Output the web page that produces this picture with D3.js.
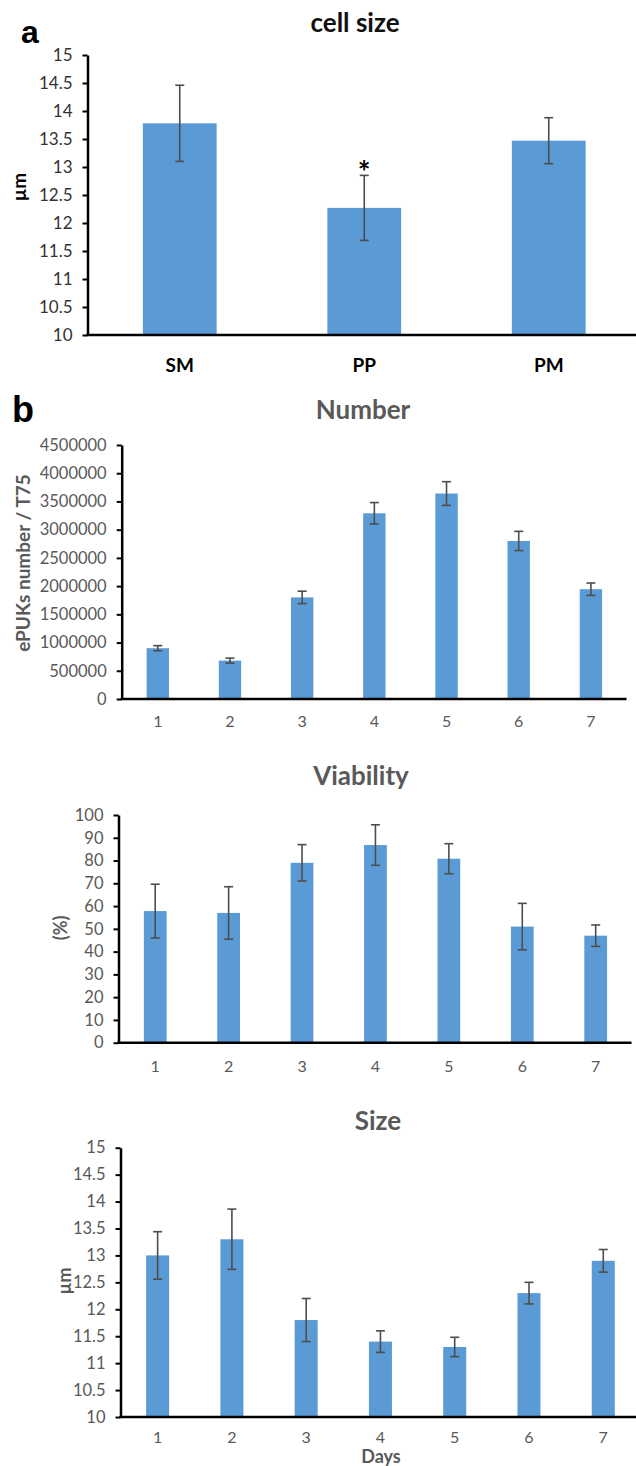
<!DOCTYPE html>
<html lang="en">
	<head>
		<meta charset="UTF-8" />
		<title>cell size / Number / Viability / Size</title>
		<style>
			body { margin: 0; background: #fff; }
			text { font-family: Lato, 'Open Sans', sans-serif; }
		</style>
	</head>
	<body>
		<div id="chart"></div>
		<script src="https://cdnjs.cloudflare.com/ajax/libs/d3/7.8.5/d3.min.js"></script>
		<script>
			// panel a
			var cellGroups = ['SM', 'PP', 'PM'];
			var cellSize = [13.78, 12.27, 13.47];
			var cellSizeErr = [0.68, 0.58, 0.41];
			var cellTicks = [10, 10.5, 11, 11.5, 12, 12.5, 13, 13.5, 14, 14.5, 15];

			// panel b
			var days = ['1', '2', '3', '4', '5', '6', '7'];
			var numberVals = [900000, 680000, 1800000, 3290000, 3640000, 2800000, 1945000];
			var numberErr = [45000, 45000, 110000, 190000, 210000, 170000, 110000];
			var numberTicks = [0, 500000, 1000000, 1500000, 2000000, 2500000, 3000000, 3500000, 4000000, 4500000];
			var viabilityVals = [57.8, 57, 79, 86.8, 80.8, 51, 47];
			var viabilityErr = [11.8, 11.5, 8, 8.9, 6.6, 10.2, 4.7];
			var viabilityTicks = [0, 10, 20, 30, 40, 50, 60, 70, 80, 90, 100];
			var sizeVals = [13.0, 13.3, 11.8, 11.4, 11.3, 12.3, 12.9];
			var sizeErr = [0.44, 0.56, 0.4, 0.2, 0.18, 0.2, 0.21];
			var sizeTicks = [10, 10.5, 11, 11.5, 12, 12.5, 13, 13.5, 14, 14.5, 15];

			var barColor = '#5B9BD5';
			var errColor = '#4d4d4d';
			var gray = '#595959';

			var svg = d3
				.select('#chart')
				.append('svg')
				.attr('width', 636)
				.attr('height', 1466);

			function drawPanel(p) {
				var x = d3
					.scaleBand()
					.domain(p.cats)
					.range(p.xRange)
					.paddingInner(p.pad)
					.paddingOuter(p.pad / 2);
				var y = d3.scaleLinear().domain(p.yDomain).range(p.yRange);

				var g = svg.append('g');

				// bars
				g.selectAll('rect.bar')
					.data(p.vals)
					.enter()
					.append('rect')
					.attr('class', 'bar')
					.attr('x', function (d, i) { return x(p.cats[i]); })
					.attr('width', x.bandwidth())
					.attr('y', function (d) { return y(d); })
					.attr('height', function (d) { return y(p.yDomain[0]) - y(d); })
					.attr('fill', barColor);

				// error bars
				var eb = g.selectAll('g.err')
					.data(p.vals)
					.enter()
					.append('g')
					.attr('class', 'err')
					.attr('stroke', errColor)
					.attr('stroke-width', 1.6);
				eb.append('line')
					.attr('x1', function (d, i) { return x(p.cats[i]) + x.bandwidth() / 2; })
					.attr('x2', function (d, i) { return x(p.cats[i]) + x.bandwidth() / 2; })
					.attr('y1', function (d, i) { return y(d + p.errs[i]); })
					.attr('y2', function (d, i) { return y(d - p.errs[i]); });
				[1, -1].forEach(function (s) {
					eb.append('line')
						.attr('x1', function (d, i) { return x(p.cats[i]) + x.bandwidth() / 2 - 4.5; })
						.attr('x2', function (d, i) { return x(p.cats[i]) + x.bandwidth() / 2 + 4.5; })
						.attr('y1', function (d, i) { return y(d + s * p.errs[i]); })
						.attr('y2', function (d, i) { return y(d + s * p.errs[i]); });
				});

				// y axis
				var yAxis = g.append('g')
					.attr('transform', 'translate(' + p.xRange[0] + ',0)')
					.call(
						d3.axisLeft(y)
							.tickValues(p.ticks)
							.tickFormat(function (d) { return String(d); })
							.tickSize(5)
							.tickPadding(10)
							.tickSizeOuter(0)
					);
				yAxis.select('.domain').attr('stroke', '#000').attr('stroke-width', 2.5);
				yAxis.selectAll('.tick line').attr('stroke', '#000').attr('stroke-width', 2);
				yAxis.selectAll('.tick text')
					.attr('fill', p.tickColor)
					.style('font-family', 'Lato')
					.style('font-size', p.tickSize + 'px');

				// x axis line
				g.append('line')
					.attr('x1', p.xRange[0] - 1)
					.attr('x2', p.xEnd)
					.attr('y1', y(p.yDomain[0]))
					.attr('y2', y(p.yDomain[0]))
					.attr('stroke', '#000')
					.attr('stroke-width', 2.5);

				// x labels
				g.selectAll('text.xlab')
					.data(p.cats)
					.enter()
					.append('text')
					.attr('class', 'xlab')
					.attr('x', function (d) { return x(d) + x.bandwidth() / 2; })
					.attr('y', p.xLabY)
					.attr('text-anchor', 'middle')
					.attr('fill', p.xLabColor)
					.style('font-size', p.xLabSize + 'px')
					.style('font-weight', p.xLabWeight)
					.text(function (d) { return d; });

				// title
				g.append('text')
					.attr('x', p.titleX)
					.attr('y', p.titleY)
					.attr('text-anchor', 'middle')
					.attr('fill', p.titleColor)
					.style('font-size', '26px')
					.style('font-weight', 'bold')
					.text(p.title);

				// y label
				g.append('text')
					.attr('transform', 'translate(' + p.yLab[0] + ',' + p.yLab[1] + ') rotate(-90)')
					.attr('text-anchor', 'middle')
					.attr('dominant-baseline', 'central')
					.attr('fill', p.yLabColor)
					.style('font-size', p.yLabSize + 'px')
					.style('font-weight', 'bold')
					.text(p.yLabel);

				return { x: x, y: y };
			}

			var a = drawPanel({
				cats: cellGroups, vals: cellSize, errs: cellSizeErr, ticks: cellTicks,
				xRange: [87.5, 641], xEnd: 636, pad: 0.6,
				yDomain: [10, 15], yRange: [335, 55],
				tickColor: '#333', tickSize: 17,
				xLabY: 372, xLabColor: '#000', xLabSize: 19, xLabWeight: 'bold',
				title: 'cell size', titleX: 355, titleY: 32, titleColor: '#111',
				yLabel: 'µm', yLab: [18, 187], yLabColor: '#000', yLabSize: 19
			});

			// significance mark over PP
			svg.append('text')
				.attr('x', a.x('PP') + a.x.bandwidth() / 2)
				.attr('y', a.y(cellSize[1] + cellSizeErr[1]) + 8)
				.attr('text-anchor', 'middle')
				.attr('fill', '#000')
				.style('font-size', '30px')
				.style('font-weight', 'bold')
				.text('*');

			drawPanel({
				cats: days, vals: numberVals, errs: numberErr, ticks: numberTicks,
				xRange: [121.7, 627], xEnd: 626.5, pad: 0.69,
				yDomain: [0, 4500000], yRange: [699, 445],
				tickColor: gray, tickSize: 16.5,
				xLabY: 727, xLabColor: gray, xLabSize: 16, xLabWeight: 'normal',
				title: 'Number', titleX: 363, titleY: 419, titleColor: gray,
				yLabel: 'ePUKs number / T75', yLab: [22, 563], yLabColor: gray, yLabSize: 19
			});

			drawPanel({
				cats: days, vals: viabilityVals, errs: viabilityErr, ticks: viabilityTicks,
				xRange: [118.5, 632.4], xEnd: 631.5, pad: 0.69,
				yDomain: [0, 100], yRange: [1042.7, 815],
				tickColor: gray, tickSize: 16.5,
				xLabY: 1072, xLabColor: gray, xLabSize: 16, xLabWeight: 'normal',
				title: 'Viability', titleX: 361, titleY: 785, titleColor: gray,
				yLabel: '(%)', yLab: [60, 928], yLabColor: gray, yLabSize: 18
			});

			drawPanel({
				cats: days, vals: sizeVals, errs: sizeErr, ticks: sizeTicks,
				xRange: [120.5, 640.4], xEnd: 636, pad: 0.69,
				yDomain: [10, 15], yRange: [1417, 1147.7],
				tickColor: gray, tickSize: 16.5,
				xLabY: 1443, xLabColor: gray, xLabSize: 16, xLabWeight: 'normal',
				title: 'Size', titleX: 378, titleY: 1130, titleColor: gray,
				yLabel: 'µm', yLab: [64, 1281], yLabColor: gray, yLabSize: 18
			});

			svg.append('text')
				.attr('x', 381)
				.attr('y', 1463)
				.attr('text-anchor', 'middle')
				.attr('fill', gray)
				.style('font-size', '18px')
				.style('font-weight', 'bold')
				.text('Days');

			// panel letters
			svg.append('text')
				.attr('x', 21)
				.attr('y', 43)
				.style('font-family', "'Liberation Sans', Arial, sans-serif")
				.style('font-size', '32px')
				.style('font-weight', 'bold')
				.text('a');
			svg.append('text')
				.attr('x', 12)
				.attr('y', 422)
				.style('font-family', "'Liberation Sans', Arial, sans-serif")
				.style('font-size', '36px')
				.style('font-weight', 'bold')
				.text('b');
		</script>
	</body>
</html>
